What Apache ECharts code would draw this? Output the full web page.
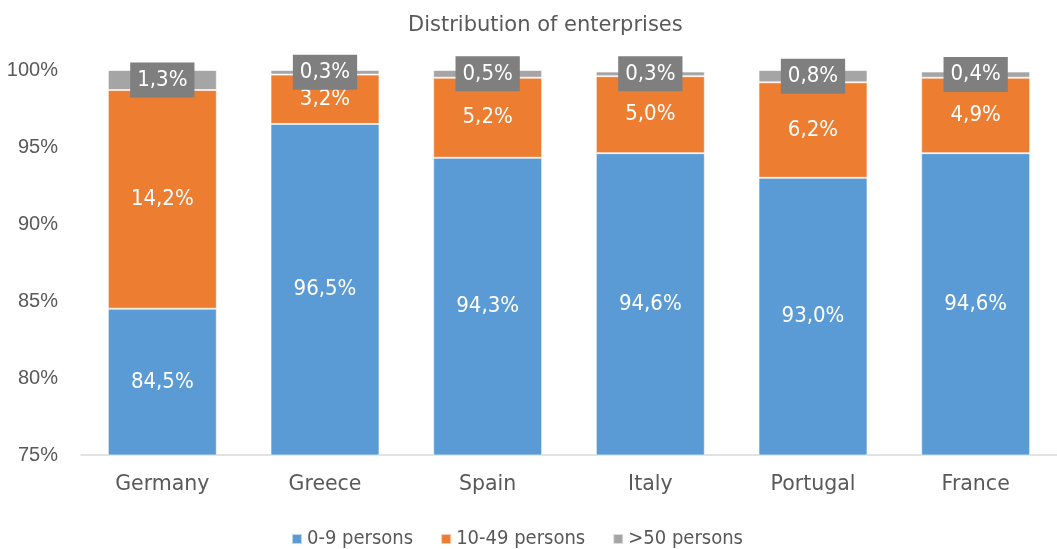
<!DOCTYPE html>
<html>
<head>
<meta charset="utf-8">
<style>
  html, body { margin: 0; padding: 0; background: #fff; }
  #chart { width: 1057px; height: 549px; }
</style>
<script src="https://cdn.jsdelivr.net/npm/echarts@6/dist/echarts.min.js"></script>
</head>
<body>
<div id="chart"></div>
<script>
// Share of enterprises by size class, per country (%)
const countries = ['Germany', 'Greece', 'Spain', 'Italy', 'Portugal', 'France'];
const small = [84.5, 96.5, 94.3, 94.6, 93.0, 94.6];   // 0-9 persons
const medium = [14.2, 3.2, 5.2, 5.0, 6.2, 4.9];      // 10-49 persons
const large = [1.3, 0.3, 0.5, 0.3, 0.8, 0.4];        // >50 persons
const seriesNames = ['0-9 persons', '10-49 persons', '>50 persons'];
const yTicks = [75, 80, 85, 90, 95, 100];

const FONT_WIDE = '"DejaVu Sans", sans-serif';
const FONT_NARROW = '"DejaVu Sans Condensed", "DejaVu Sans", sans-serif';
const FONT_TICK = '"Liberation Sans", Arial, sans-serif';
const TEXT = '#595959';
const fmt = v => v.toFixed(1).replace('.', ',') + '%';

const chart = echarts.init(document.getElementById('chart'));

function barSeries(name, data, color, labelExtra) {
  return {
    name: name,
    type: 'bar',
    stack: 'total',
    data: data,
    barCategoryGap: '33%',
    itemStyle: { color: color, borderColor: 'rgba(255,255,255,0.6)', borderWidth: 1 },
    label: Object.assign({
      show: true,
      position: 'inside',
      color: '#fff',
      fontFamily: FONT_NARROW,
      fontSize: 22,
      formatter: p => fmt(p.value)
    }, labelExtra || {}),
    emphasis: { disabled: true }
  };
}

chart.setOption({
  animation: false,
  title: {
    text: 'Distribution of enterprises',
    left: 403,
    top: 10,
    textStyle: { fontFamily: FONT_WIDE, fontSize: 21, fontWeight: 'normal', color: TEXT }
  },
  legend: {
    data: seriesNames,
    left: 286,
    top: 524,
    icon: 'rect',
    itemWidth: 10,
    itemHeight: 10,
    itemGap: 27,
    textStyle: { fontFamily: FONT_NARROW, fontSize: 20, color: TEXT }
  },
  grid: { left: 81, top: 70, width: 989, height: 385, containLabel: false },
  xAxis: {
    type: 'category',
    data: countries,
    axisLine: { lineStyle: { color: '#d9d9d9', width: 1.5 } },
    axisTick: { show: false },
    axisLabel: { fontFamily: FONT_WIDE, fontSize: 20.5, color: TEXT, margin: 19 }
  },
  yAxis: {
    type: 'value',
    min: yTicks[0],
    max: yTicks[yTicks.length - 1],
    interval: 5,
    splitLine: { show: false },
    axisLine: { show: false },
    axisTick: { show: false },
    axisLabel: { fontFamily: FONT_TICK, fontSize: 20, color: TEXT, margin: 23, formatter: v => v + '%' }
  },
  series: [
    barSeries(seriesNames[0], small, '#5B9BD5'),
    barSeries(seriesNames[1], medium, '#ED7D31'),
    barSeries(seriesNames[2], large, '#A5A5A5', {
      backgroundColor: '#7F7F7F',
      padding: [7, 7, 6, 7]
    })
  ]
});
</script>
</body>
</html>
